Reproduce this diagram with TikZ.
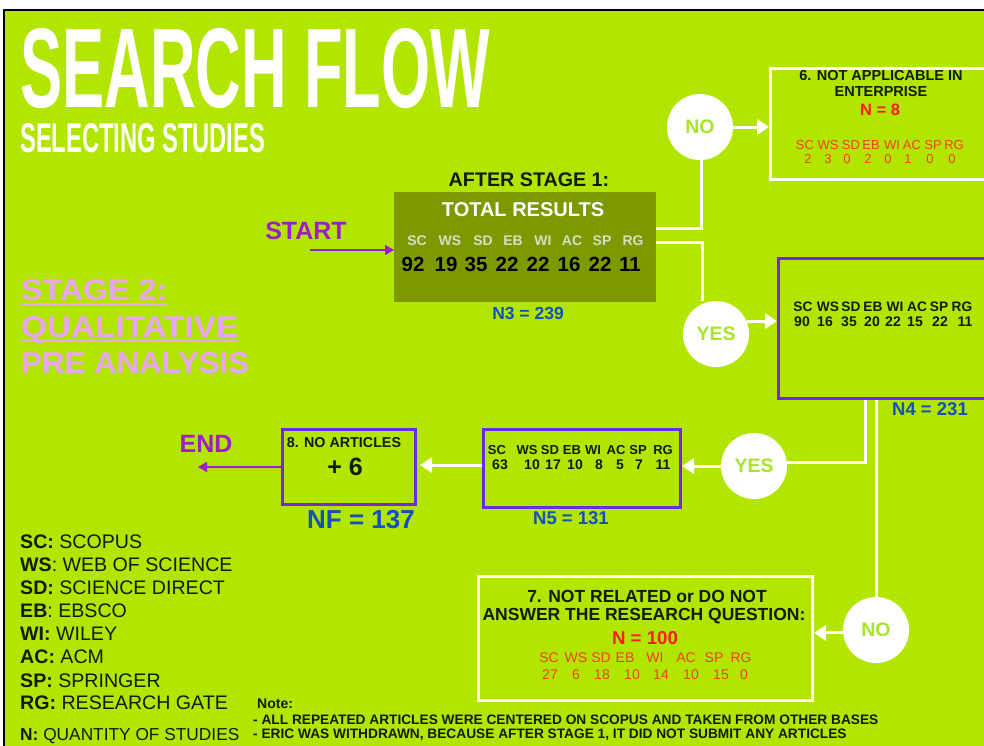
\documentclass[tikz,border=0pt]{standalone}
\usepackage{fontspec}
\setmainfont{Liberation Sans}
\usetikzlibrary{arrows.meta}

\definecolor{bg}{RGB}{178,230,0}
\definecolor{boxolive}{RGB}{124,154,0}
\definecolor{boxpurple}{RGB}{108,42,228}
\definecolor{nblue}{RGB}{20,80,190}
\definecolor{startpurple}{RGB}{160,30,200}
\definecolor{stagepink}{RGB}{235,165,245}
\definecolor{nred}{RGB}{250,30,30}
\definecolor{rowred}{RGB}{240,65,30}
\definecolor{bubbletext}{RGB}{168,228,40}
\definecolor{headgrey}{RGB}{215,222,195}
\definecolor{ink}{RGB}{18,28,0}

\newcommand\fsz[1]{\fontsize{#1}{#1}\selectfont}

\tikzset{
  wline/.style={draw=white, line width=3pt},
  warrow/.style={wline, -{Triangle[length=12pt,width=15pt]}},
  parrow/.style={draw=startpurple, line width=1.6pt, -{Triangle[length=9pt,width=10pt]}},
  bubble/.style={circle, fill=white, minimum size=66pt, inner sep=0pt,
    font=\fsz{19.5}\bfseries, text=bubbletext},
  wbox/.style={draw=white, line width=3pt, inner sep=0pt, anchor=north west},
  pbox/.style={draw=boxpurple, line width=3pt, inner sep=0pt, anchor=north west},
  txt/.style={inner sep=0pt, text=ink},
  nlabel/.style={inner sep=0pt, text=nblue, font=\bfseries},
  stage/.style={anchor=base west, inner sep=0pt, text=stagepink, font=\bfseries},
}

\begin{document}
\begin{tikzpicture}[x=1pt,y=-1pt]
\useasboundingbox (0,0) rectangle (984,745);
\clip (0,0) rectangle (984,745);

% page and frame
\fill[white] (0,0) rectangle (984,745);
\fill[bg] (5,10) rectangle (990,750);
\draw[black, line width=2pt] (4,760) -- (4,10) -- (990,10);

% headings
\node[anchor=base west, inner sep=0pt, text=white] (title) at (20,107)
  {\resizebox{470pt}{79pt}{\bfseries SEARCH FLOW}};
\node[anchor=base west, inner sep=0pt, text=white] (subtitle) at (20,152)
  {\resizebox{245pt}{29pt}{\bfseries SELECTING STUDIES}};

% stage label
\node[stage] (st1) at (21,300) {\resizebox{146pt}{21pt}{STAGE 2:}};
\node[stage] (st2) at (21,337) {\resizebox{217pt}{21pt}{QUALITATIVE}};
\node[stage] (st3) at (21,373) {\resizebox{228pt}{21pt}{PRE ANALYSIS}};
\draw[stagepink, line width=2pt] ([yshift=-3.5pt]st1.base west) -- ([yshift=-3.5pt]st1.base east);
\draw[stagepink, line width=2pt] ([yshift=-3.5pt]st2.base west) -- ([yshift=-3.5pt]st2.base east);

% boxes
\node[fill=boxolive, minimum width=262pt, minimum height=110pt, anchor=north west, inner sep=0pt] (b1) at (394,192) {};
\node[wbox, minimum width=226pt, minimum height=111pt] (b6) at (769,67) {};
\node[pbox, minimum width=220pt, minimum height=140pt] (b4) at (777,257) {};
\node[pbox, minimum width=197pt, minimum height=78pt] (b5) at (482,428) {};
\node[pbox, minimum width=133pt, minimum height=75pt] (b8) at (281,428) {};
\node[wbox, minimum width=334pt, minimum height=124pt] (b7) at (477,575) {};

% circles
\node[bubble] (no1) at (700,127) {NO};
\node[bubble] (yes1) at (716,334) {YES};
\node[bubble] (yes2) at (754,466) {YES};
\node[bubble] (no2) at (876,630) {NO};

% connector bends
\coordinate (j1) at (701,228);
\coordinate (j2) at (702,242);
\coordinate (j3) at (865,462);
\coordinate (startc) at (310,250);
\coordinate (endc) at (198,467);

\draw[wline] (b1.east |- j1) -- (j1) -- (j1 |- no1.south);
\draw[wline] (b1.east |- j2) -- (j2) -- (j2 |- yes1.north);
\draw[wline] (j3 |- b4.south) -- (j3) -- (j3 -| yes2.east);
\draw[wline] (no2.north |- b4.south) -- (no2.north);

\draw[warrow] (no1.east) -- (no1.east -| b6.west);
\draw[warrow] (yes1.23) -- (yes1.23 -| b4.west);
\draw[warrow] (yes2.west) -- (yes2.west -| b5.east);
\draw[warrow] (no2.185) -- (no2.185 -| b7.east);
\draw[warrow, shorten >=3pt] (b5.west |- 0,465) -- (b8.east |- 0,465);
\draw[parrow] (startc) -- (startc -| b1.west);
\draw[parrow] (b8.west |- endc) -- (endc);

% start / end
\node[inner sep=0pt, text=startpurple, font=\fsz{25}\bfseries] (start) at (306,231) {START};
\node[inner sep=0pt, text=startpurple, font=\fsz{25}\bfseries] (end) at (206,444) {END};

% after stage 1
\node[txt, font=\fsz{19.7}\bfseries] (after) at (529,180) {AFTER STAGE 1:};
\node[inner sep=0pt, text=white, font=\fsz{20}\bfseries] (total) at (523,210) {TOTAL RESULTS};
\foreach \x/\t [count=\i] in {417/SC,450/WS,483/SD,513/EB,543/WI,572/AC,602/SP,633/RG}
  \node[inner sep=0pt, text=headgrey, font=\fsz{14}\bfseries] (h1\i) at (\x,241) {\t};
\foreach \x/\t [count=\i] in {413/92,446/19,476/35,507/22,538/22,569/16,600/22,630/11}
  \node[inner sep=0pt, text=black, font=\fsz{20.5}\bfseries] (v1\i) at (\x,264) {\t};
\node[nlabel, font=\fsz{17.5}\bfseries] (n3) at (528,313) {N3 = 239};

% box 6
\node[txt, font=\fsz{14.5}\bfseries] (b6a) at (881,76) {6. NOT APPLICABLE IN};
\node[txt, font=\fsz{14.5}\bfseries] (b6b) at (881,92) {ENTERPRISE};
\node[inner sep=0pt, text=nred, font=\fsz{16.5}\bfseries] (b6n) at (880,110) {N = 8};
\foreach \x/\t [count=\i] in {805/SC,828/WS,851/SD,871/EB,892/WI,912/AC,933/SP,954/RG}
  \node[inner sep=0pt, text=rowred, font=\fsz{13}] (h6\i) at (\x,145) {\t};
\foreach \x/\t [count=\i] in {808/2,828/3,847/0,868/2,888/0,908/1,930/0,952/0}
  \node[inner sep=0pt, text=rowred, font=\fsz{13}] (v6\i) at (\x,159) {\t};

% box 4
\foreach \x/\t [count=\i] in {803/SC,828/WS,851/SD,873/EB,895/WI,917/AC,939/SP,962/RG}
  \node[txt, font=\fsz{13.7}\bfseries] (h4\i) at (\x,307) {\t};
\foreach \x/\t [count=\i] in {802/90,825/16,849/35,872/20,893/22,915/15,940/22,965/11}
  \node[txt, font=\fsz{14}\bfseries] (v4\i) at (\x,322) {\t};
\node[nlabel, font=\fsz{18.5}\bfseries] (n4) at (930,409) {N4 = 231};

% box 5
\foreach \x/\t [count=\i] in {497/SC,527/WS,550/SD,572/EB,593/WI,616/AC,638/SP,663/RG}
  \node[txt, font=\fsz{13}\bfseries] (h5\i) at (\x,450) {\t};
\foreach \x/\t [count=\i] in {500/63,532/10,553/17,575/10,599/8,620/5,639/7,663/11}
  \node[txt, font=\fsz{14}\bfseries] (v5\i) at (\x,465) {\t};
\node[nlabel, font=\fsz{18.5}\bfseries] (n5) at (571,518) {N5 = 131};

% box 8
\node[txt, font=\fsz{14.3}\bfseries] (b8a) at (344,443) {8. NO ARTICLES};
\node[txt, font=\fsz{25}\bfseries] (b8b) at (345,467) {+ 6};
\node[nlabel, font=\fsz{26}\bfseries] (nf) at (361,520) {NF = 137};

% box 7
\node[txt, font=\fsz{17.5}\bfseries] (b7a) at (647,596) {7. NOT RELATED or DO NOT};
\node[txt, font=\fsz{17.5}\bfseries] (b7b) at (644,616) {ANSWER THE RESEARCH QUESTION:};
\node[inner sep=0pt, text=nred, font=\fsz{18.7}\bfseries] (b7n) at (645,638) {N = 100};
\foreach \x/\t [count=\i] in {549/SC,576/WS,601/SD,625/EB,655/WI,686/AC,714/SP,741/RG}
  \node[inner sep=0pt, text=rowred, font=\fsz{14}] (h7\i) at (\x,658) {\t};
\foreach \x/\t [count=\i] in {550/27,576/6,602/18,632/10,661/14,691/10,721/15,744/0}
  \node[inner sep=0pt, text=rowred, font=\fsz{14}] (v7\i) at (\x,675) {\t};

% legend
\foreach \y/\t [count=\i] in {
  542/{\textbf{SC:} SCOPUS},
  565/{\textbf{WS}: WEB OF SCIENCE},
  588/{\textbf{SD:} SCIENCE DIRECT},
  611/{\textbf{EB}: EBSCO},
  634/{\textbf{WI:} WILEY},
  657/{\textbf{AC:} ACM},
  681/{\textbf{SP:} SPRINGER},
  703/{\textbf{RG:} RESEARCH GATE}}
  \node[txt, anchor=west, font=\fsz{19.6}] (leg\i) at (20,\y) {\t};
\node[txt, anchor=west, font=\fsz{17.3}] (legn) at (20,736) {\textbf{N:} QUANTITY OF STUDIES};

% note
\node[txt, anchor=west, font=\fsz{14}\bfseries] (note) at (257,704) {Note:};
\node[txt, anchor=west, font=\fsz{13.7}\bfseries] (note1) at (253,720)
  {- ALL REPEATED ARTICLES WERE CENTERED ON SCOPUS AND TAKEN FROM OTHER BASES};
\node[txt, anchor=west, font=\fsz{13.7}\bfseries] (note2) at (253,735)
  {- ERIC WAS WITHDRAWN, BECAUSE AFTER STAGE 1, IT DID NOT SUBMIT ANY ARTICLES};
\end{tikzpicture}
\end{document}
